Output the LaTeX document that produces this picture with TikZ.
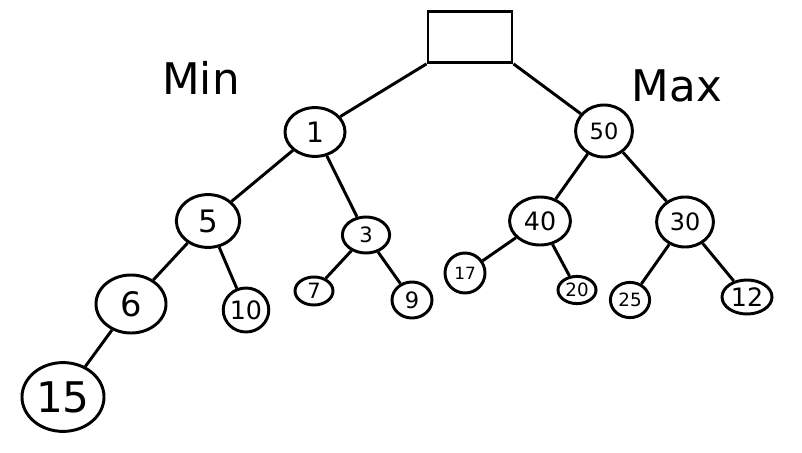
\documentclass[tikz,border=0pt]{standalone}
\usepackage{fontspec}
\setmainfont{DejaVu Sans}
\usetikzlibrary{shapes.geometric}

\begin{document}
\begin{tikzpicture}[x=0.025cm, y=-0.025cm,
    vert/.style 2 args={draw, ellipse, line width=2.1pt, inner sep=0pt, minimum width=#1, minimum height=#2},
    edge/.style={line width=2.1pt},
    big/.style={font=\fontsize{#1}{#1}\selectfont},
]
    \useasboundingbox (0,0) rectangle (802,453);

    % root box
    \node[draw, line width=2.1pt, minimum width=2.1cm, minimum height=1.27cm] (root) at (470,37) {};

    % labels
    \node[big=31] (minlbl) at (201,78) {Min};
    \node[big=31] (maxlbl) at (677,86) {Max};

    % min side
    \node[vert={1.5cm}{1.22cm}, big=20] (n1) at (315,132) {1};
    \node[vert={1.58cm}{1.32cm}, big=22] (n5) at (208,221) {5};
    \node[vert={1.18cm}{0.9cm}, big=15] (n3) at (366,235) {3};
    \node[vert={1.75cm}{1.45cm}, big=24] (n6) at (131,304) {6};
    \node[vert={1.1cm}{1.1cm}, big=18] (n10) at (246,310) {10};
    \node[vert={0.95cm}{0.7cm}, big=15] (n7) at (314,291) {7};
    \node[vert={1cm}{0.9cm}, big=16] (n9) at (412,300) {9};
    \node[vert={2.05cm}{1.72cm}, big=30] (n15) at (63,397) {15};

    % max side
    \node[vert={1.42cm}{1.3cm}, big=16] (n50) at (604,131) {50};
    \node[vert={1.52cm}{1.2cm}, big=18] (n40) at (540,221) {40};
    \node[vert={1.42cm}{1.25cm}, big=17] (n30) at (685,222) {30};
    \node[vert={1cm}{1cm}, big=12] (n17) at (465,273) {17};
    \node[vert={0.95cm}{0.68cm}, big=13] (n20) at (577,290) {20};
    \node[vert={0.98cm}{0.88cm}, big=13] (n25) at (630,300) {25};
    \node[vert={1.25cm}{0.85cm}, big=18] (n12) at (747,297) {12};

    % edges
    \draw[edge] (root.south west) -- (n1);
    \draw[edge] (root.south east) -- (n50);
    \draw[edge] (n1) -- (n5);
    \draw[edge] (n1) -- (n3);
    \draw[edge] (n5) -- (n6);
    \draw[edge] (n5) -- (n10);
    \draw[edge] (n6) -- (n15);
    \draw[edge] (n3) -- (n7);
    \draw[edge] (n3) -- (n9);
    \draw[edge] (n50) -- (n40);
    \draw[edge] (n50) -- (n30);
    \draw[edge] (n40) -- (n17);
    \draw[edge] (n40) -- (n20);
    \draw[edge] (n30) -- (n25);
    \draw[edge] (n30) -- (n12);
\end{tikzpicture}
\end{document}
